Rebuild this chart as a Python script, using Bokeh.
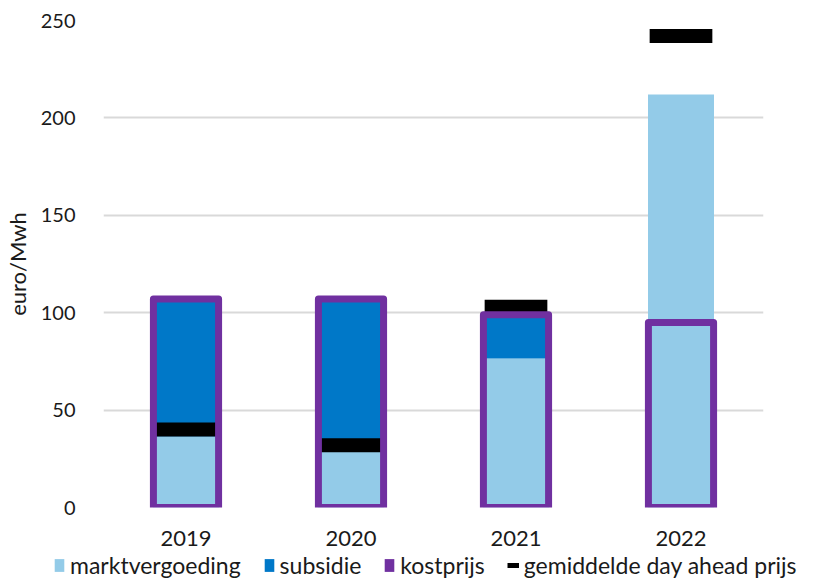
from bokeh.plotting import figure
from bokeh.models import Range1d, Legend, LegendItem, ColumnDataSource
from bokeh.layouts import column
from bokeh.embed import file_html
from bokeh.resources import INLINE

years = ["2019", "2020", "2021", "2022"]
marktvergoeding = [36.5, 29, 76.5, 212]
subsidie = [71.5, 78, 23, 0]
kostprijs = [107, 107, 99, 95]
day_ahead = [40, 32, 103, 242]
y_ticks = [0, 50, 100, 150, 200, 250]
legend_labels = ["marktvergoeding", "subsidie", "kostprijs",
                 "gemiddelde day ahead prijs"]

C_MARKT = "#93CBE8"
C_SUB = "#0078C8"
C_KOST = "#7030A0"
C_DA = "#000000"
FONT = "Lato"
TXT = "#1a1a1a"

src = ColumnDataSource(dict(year=years, marktvergoeding=marktvergoeding,
                            subsidie=subsidie, kostprijs=kostprijs,
                            day_ahead=day_ahead))

p = figure(x_range=years, y_range=Range1d(0, 250),
           frame_width=660, frame_height=487,
           min_border_left=93, min_border_top=20, min_border_right=63,
           min_border_bottom=44,
           output_backend="svg", toolbar_location=None)
p.outline_line_color = None
p.background_fill_color = "white"

stack = p.vbar_stack(["marktvergoeding", "subsidie"], x="year", width=0.4,
                     source=src, fill_color=[C_MARKT, C_SUB],
                     line_color=None)

p.rect(x="year", y="day_ahead", width=0.38, height=14, height_units="screen",
       source=src, fill_color=C_DA, line_color=None)

p.vbar(x="year", top="kostprijs", bottom=0, width=0.395, source=src,
       fill_color=None, line_color=C_KOST, line_width=7, line_join="round")

p.xgrid.grid_line_color = None
p.ygrid.grid_line_color = "#D9D9D9"
p.ygrid.grid_line_width = 2
p.yaxis.ticker = y_ticks

for ax in (p.xaxis[0], p.yaxis[0]):
    ax.axis_line_color = None
    ax.major_tick_line_color = None
    ax.minor_tick_line_color = None
    ax.major_label_text_font = FONT
    ax.major_label_text_color = TXT

p.yaxis.major_label_text_font_size = "20px"
p.xaxis.major_label_text_font_size = "22px"
p.yaxis.major_label_standoff = 22
p.yaxis.axis_label = "euro/Mwh"
p.yaxis.axis_label_text_font = FONT
p.yaxis.axis_label_text_font_size = "22px"
p.yaxis.axis_label_text_font_style = "normal"
p.yaxis.axis_label_text_color = TXT
p.yaxis.axis_label_standoff = 7
p.xaxis.major_label_standoff = 17

# ---- legend strip (separate figure so it is not clipped) ----
lg = figure(width=830, height=28, x_range=Range1d(0, 1), y_range=Range1d(0, 1),
            x_axis_location=None, y_axis_location=None,
            min_border=0, output_backend="svg", toolbar_location=None)
lg.grid.visible = False
lg.outline_line_color = None
for fig in (p, lg):
    try:
        fig.frame_align = False
    except Exception:
        pass

# zero-size proxy glyphs, only used for the legend swatches
r1 = lg.vbar(x=[0.5], top=[0], bottom=[0], width=0.01, fill_color=C_MARKT, line_color=None)
r2 = lg.vbar(x=[0.5], top=[0], bottom=[0], width=0.01, fill_color=C_SUB, line_color=None)
r3 = lg.vbar(x=[0.5], top=[0], bottom=[0], width=0.01, fill_color=C_KOST, line_color=None)
r4 = lg.line(x=[0.5, 0.5], y=[0, 0], line_color=C_DA, line_width=5)

legend = Legend(items=[LegendItem(label=l, renderers=[r])
                       for l, r in zip(legend_labels, [r1, r2, r3, r4])],
                orientation="horizontal", location=(53, 0))
legend.label_text_font = FONT
legend.label_text_font_size = "23px"
legend.label_text_color = TXT
legend.glyph_width = 12
legend.glyph_height = 16
legend.label_height = 16
legend.label_standoff = 5
legend.spacing = 22
legend.padding = 0
legend.margin = 0
legend.border_line_color = None
legend.background_fill_alpha = 0
lg.add_layout(legend, "center")

layout = column(p, lg, spacing=0)
open("out.html", "w").write(file_html(layout, INLINE))
